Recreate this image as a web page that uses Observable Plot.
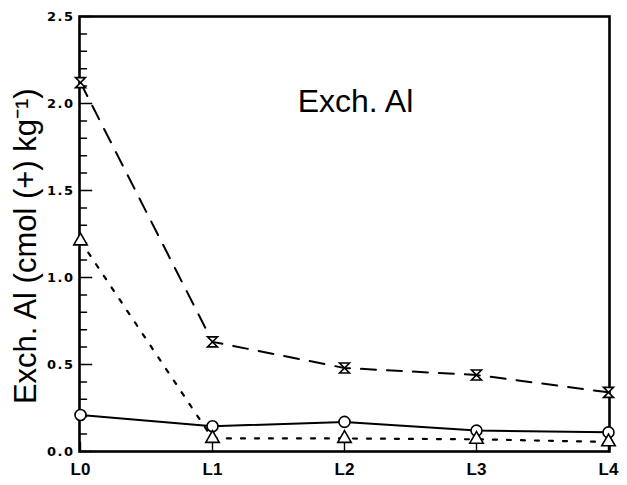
<!DOCTYPE html>
<html><head><meta charset="utf-8">
<script src="https://cdn.jsdelivr.net/npm/d3@7"></script>
<script src="https://cdn.jsdelivr.net/npm/@observablehq/plot@0.6"></script>
<style>
body{margin:0;background:#fff;font-family:"Liberation Sans",Arial,sans-serif}
.ytl text{letter-spacing:1.5px}
</style>
</head><body><div id="chart"></div>
<script>
const layers = ["L0", "L1", "L2", "L3", "L4"];
const dashedSeries = [2.12, 0.63, 0.48, 0.44, 0.34];
const solidSeries = [0.21, 0.145, 0.17, 0.12, 0.11];
const dottedSeries = [1.21, 0.075, 0.075, 0.07, 0.055];
const yMajor = [0, 0.5, 1, 1.5, 2, 2.5];
const yTickLabels = ["0.0", "0.5", "1.0", "1.5", "2.0", "2.5"];
const yMinor = [0.1, 0.2, 0.3, 0.4, 0.6, 0.7, 0.8, 0.9, 1.1, 1.2, 1.3, 1.4, 1.6, 1.7, 1.8, 1.9, 2.1, 2.2, 2.3, 2.4];
const titleText = "Exch. Al";
const yLabelText = "Exch. Al (cmol (+) kg\u207B\u00B9)";

const rows = (vals) => layers.map((l, i) => ({layer: l, value: vals[i]}));

const hourglass = {
  draw(ctx, size) {
    const r = Math.sqrt(size) / 1.6;
    ctx.moveTo(-r, -r); ctx.lineTo(r, -r); ctx.lineTo(-r, r); ctx.lineTo(r, r); ctx.closePath();
  }
};

const chart = Plot.plot({
  width: 627, height: 485,
  marginLeft: 79, marginRight: 18, marginTop: 16, marginBottom: 34,
  style: {fontFamily: "Liberation Sans, Arial, sans-serif", background: "#fff"},
  x: {type: "point", domain: layers, padding: 0, axis: null},
  y: {domain: [0, 2.5], axis: null},
  marks: [
    Plot.vector(yMinor, {x: () => "L0", y: d => d, length: 6, rotate: 90, anchor: "start", r: 0.001, stroke: "black", strokeWidth: 1.5}),
    Plot.vector(yMajor, {x: () => "L0", y: d => d, length: 11, rotate: 90, anchor: "start", r: 0.001, stroke: "black", strokeWidth: 1.7}),
    Plot.vector(layers, {x: d => d, y: () => 0, length: 9, rotate: 0, anchor: "start", r: 0.001, stroke: "black", strokeWidth: 1.4}),
    Plot.text(yMajor, {x: () => "L0", y: d => d, text: (d, i) => yTickLabels[i], dx: -6, textAnchor: "end", fontSize: 13, fontWeight: "bold", fontFamily: "DejaVu Sans", fill: "black", className: "ytl"}),
    Plot.text(layers, {x: d => d, y: () => 0, text: d => d, dy: 18, fontSize: 17, fontWeight: "bold", fill: "black"}),
    Plot.frame({strokeWidth: 2.6}),
    Plot.line(rows(dashedSeries), {x: "layer", y: "value", strokeWidth: 2, strokeDasharray: "15,11"}),
    Plot.line(rows(dottedSeries), {x: "layer", y: "value", strokeWidth: 2.2, strokeDasharray: "4,10"}),
    Plot.line(rows(solidSeries), {x: "layer", y: "value", strokeWidth: 2}),
    Plot.dot(rows(dashedSeries), {x: "layer", y: "value", symbol: hourglass, r: 4.5, stroke: "black", strokeWidth: 1.6, fill: "white"}),
    Plot.dot(rows(solidSeries), {x: "layer", y: "value", symbol: "circle", r: 5.5, stroke: "black", strokeWidth: 1.6, fill: "white"}),
    Plot.dot(rows(dottedSeries), {x: "layer", y: "value", symbol: "triangle", r: 5, stroke: "black", strokeWidth: 1.6, fill: "white"}),
    Plot.text([titleText], {x: () => "L2", y: () => 2.01, dx: 11, text: d => d, fontSize: 32, fill: "black"}),
    Plot.text([yLabelText], {x: () => "L0", y: () => 1.18, dx: -54, text: d => d, rotate: -90, fontSize: 31, fill: "black"})
  ]
});
document.getElementById("chart").appendChild(chart);
</script>
</body></html>
